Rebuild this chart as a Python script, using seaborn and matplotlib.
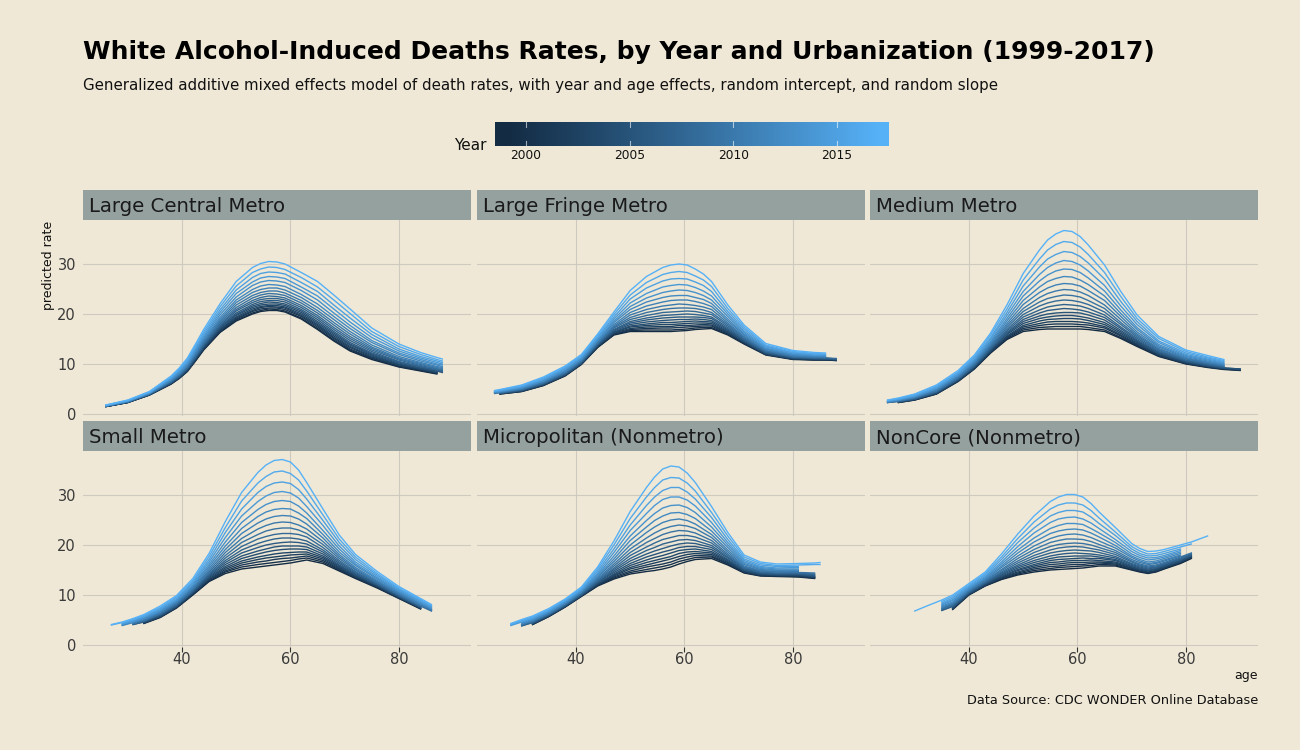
import numpy as np
import pandas as pd
import matplotlib
matplotlib.use("Agg")
import matplotlib.pyplot as plt
import seaborn as sns
from matplotlib.colors import ListedColormap, to_rgb
from matplotlib.patches import Rectangle

N = np.nan

# ---------------------------------------------------------------- data
YEARS = list(range(1999, 2018))
PANELS = ["Large Central Metro", "Large Fringe Metro", "Medium Metro",
          "Small Metro", "Micropolitan (Nonmetro)", "NonCore (Nonmetro)"]

# each row: predicted rate at that age for years 1999..2017 (N = no value)
LC_AGES = [26, 30, 34, 38, 39.5, 41, 42.5, 44, 47, 50, 53, 54.5, 56, 57.5, 59, 62, 65, 68, 71, 75, 80, 84, 87, 88]
LC_RATES = [
    [1.5, 1.5, 1.5, 1.5, 1.5, 1.5, 1.6, 1.6, 1.6, 1.6, 1.6, 1.6, 1.6, 1.7, 1.7, 1.7, 1.7, 1.8, 1.8],
    [2.3, 2.3, 2.3, 2.3, 2.4, 2.4, 2.4, 2.4, 2.4, 2.4, 2.5, 2.5, 2.5, 2.6, 2.6, 2.6, 2.7, 2.7, 2.8],
    [3.8, 3.8, 3.8, 3.9, 3.9, 3.9, 3.9, 3.9, 4.0, 4.0, 4.0, 4.1, 4.1, 4.2, 4.2, 4.3, 4.3, 4.4, 4.5],
    [6.0, 6.0, 6.1, 6.1, 6.2, 6.2, 6.3, 6.3, 6.4, 6.5, 6.6, 6.6, 6.7, 6.9, 7.0, 7.1, 7.3, 7.4, 7.6],
    [7.1, 7.2, 7.2, 7.3, 7.3, 7.4, 7.5, 7.5, 7.6, 7.7, 7.8, 7.9, 8.1, 8.2, 8.4, 8.6, 8.8, 9.0, 9.2],
    [8.5, 8.6, 8.6, 8.7, 8.8, 8.9, 9.0, 9.1, 9.2, 9.3, 9.4, 9.6, 9.8, 9.9, 10.1, 10.4, 10.6, 10.9, 11.2],
    [10.6, 10.7, 10.8, 10.9, 11.0, 11.1, 11.2, 11.3, 11.4, 11.6, 11.8, 12.0, 12.2, 12.4, 12.7, 13.0, 13.3, 13.6, 14.0],
    [12.8, 12.9, 13.0, 13.1, 13.2, 13.4, 13.5, 13.7, 13.8, 14.0, 14.2, 14.4, 14.7, 15.0, 15.3, 15.6, 16.0, 16.4, 16.9],
    [16.3, 16.4, 16.6, 16.7, 16.9, 17.1, 17.3, 17.5, 17.7, 18.0, 18.3, 18.6, 18.9, 19.3, 19.8, 20.3, 20.8, 21.4, 22.0],
    [18.6, 18.8, 19.0, 19.2, 19.4, 19.7, 19.9, 20.2, 20.6, 20.9, 21.3, 21.8, 22.3, 22.8, 23.4, 24.1, 24.8, 25.6, 26.5],
    [20.0, 20.2, 20.5, 20.7, 21.0, 21.3, 21.6, 21.9, 22.3, 22.7, 23.2, 23.7, 24.3, 24.9, 25.7, 26.4, 27.3, 28.3, 29.3],
    [20.5, 20.7, 21.0, 21.3, 21.5, 21.8, 22.1, 22.5, 22.9, 23.3, 23.8, 24.3, 24.9, 25.6, 26.4, 27.2, 28.1, 29.0, 30.1],
    [20.7, 21.0, 21.2, 21.5, 21.7, 22.0, 22.4, 22.7, 23.1, 23.6, 24.1, 24.6, 25.2, 25.9, 26.7, 27.5, 28.4, 29.4, 30.5],
    [20.7, 20.9, 21.2, 21.4, 21.7, 22.0, 22.3, 22.7, 23.1, 23.5, 24.0, 24.6, 25.2, 25.8, 26.6, 27.4, 28.3, 29.3, 30.4],
    [20.4, 20.6, 20.9, 21.2, 21.4, 21.7, 22.0, 22.4, 22.8, 23.2, 23.7, 24.2, 24.8, 25.5, 26.3, 27.1, 28.0, 28.9, 30.0],
    [19.0, 19.2, 19.5, 19.7, 20.0, 20.3, 20.6, 20.9, 21.3, 21.7, 22.2, 22.7, 23.3, 23.9, 24.7, 25.4, 26.3, 27.3, 28.3],
    [16.9, 17.1, 17.4, 17.7, 17.9, 18.2, 18.5, 18.9, 19.3, 19.7, 20.2, 20.7, 21.3, 22.0, 22.8, 23.6, 24.5, 25.4, 26.5],
    [14.6, 14.8, 15.1, 15.3, 15.6, 15.9, 16.2, 16.5, 16.9, 17.3, 17.8, 18.3, 18.9, 19.5, 20.2, 21.0, 21.8, 22.8, 23.8],
    [12.6, 12.8, 13.0, 13.3, 13.5, 13.8, 14.0, 14.3, 14.7, 15.1, 15.5, 16.0, 16.5, 17.1, 17.7, 18.4, 19.2, 20.1, 21.0],
    [10.9, 11.1, 11.2, 11.4, 11.6, 11.8, 12.0, 12.2, 12.5, 12.8, 13.1, 13.4, 13.8, 14.3, 14.7, 15.3, 15.9, 16.5, 17.2],
    [9.4, 9.5, 9.6, 9.8, 9.9, 10.0, 10.2, 10.4, 10.5, 10.8, 11.0, 11.2, 11.5, 11.9, 12.2, 12.6, 13.0, 13.5, 14.0],
    [8.6, 8.7, 8.8, 8.9, 9.0, 9.1, 9.2, 9.4, 9.5, 9.7, 9.9, 10.1, 10.3, 10.6, 10.9, 11.2, 11.5, 11.9, 12.3],
    [8.0, 8.1, 8.2, 8.3, 8.3, 8.5, 8.6, 8.7, 8.8, 9.0, 9.1, 9.3, 9.5, 9.8, 10.0, 10.3, 10.6, 10.9, 11.3],
    [N, N, N, N, N, N, 8.3, 8.5, 8.6, 8.7, 8.9, 9.1, 9.3, 9.5, 9.8, 10.0, 10.3, 10.6, 11.0],
]

LF_AGES = [25, 26, 30, 34, 38, 41, 44, 47, 50, 53, 56, 57.5, 59, 60.5, 62, 63.5, 65, 68, 71, 75, 80, 84, 86, 88]
LF_RATES = [
    [N, N, N, N, N, N, N, N, N, 4.1, 4.2, 4.2, 4.3, 4.3, 4.4, 4.5, 4.5, 4.6, 4.7],
    [4.0, 4.0, 4.1, 4.1, 4.1, 4.1, 4.2, 4.2, 4.2, 4.3, 4.3, 4.4, 4.4, 4.5, 4.5, 4.6, 4.7, 4.8, 4.9],
    [4.5, 4.5, 4.6, 4.6, 4.6, 4.7, 4.7, 4.8, 4.8, 4.9, 5.0, 5.0, 5.1, 5.2, 5.3, 5.4, 5.5, 5.7, 5.8],
    [5.7, 5.7, 5.8, 5.8, 5.9, 5.9, 6.0, 6.1, 6.1, 6.2, 6.3, 6.4, 6.5, 6.6, 6.7, 6.9, 7.0, 7.2, 7.4],
    [7.6, 7.7, 7.7, 7.8, 7.8, 7.9, 7.9, 8.0, 8.1, 8.2, 8.3, 8.4, 8.5, 8.7, 8.8, 9.0, 9.2, 9.4, 9.6],
    [9.9, 10.0, 10.0, 10.1, 10.1, 10.2, 10.2, 10.3, 10.4, 10.5, 10.6, 10.7, 10.8, 11.0, 11.1, 11.3, 11.5, 11.7, 11.9],
    [13.3, 13.4, 13.4, 13.5, 13.6, 13.7, 13.8, 13.9, 14.0, 14.1, 14.2, 14.4, 14.6, 14.7, 14.9, 15.2, 15.4, 15.7, 16.0],
    [15.8, 15.9, 16.0, 16.2, 16.3, 16.4, 16.6, 16.8, 16.9, 17.2, 17.4, 17.6, 17.9, 18.3, 18.6, 19.0, 19.4, 19.9, 20.4],
    [16.5, 16.7, 16.9, 17.1, 17.4, 17.6, 17.9, 18.2, 18.5, 18.9, 19.3, 19.8, 20.3, 20.9, 21.5, 22.2, 23.0, 23.8, 24.7],
    [16.5, 16.8, 17.1, 17.4, 17.7, 18.0, 18.4, 18.8, 19.2, 19.7, 20.3, 20.9, 21.6, 22.4, 23.2, 24.1, 25.2, 26.3, 27.5],
    [16.5, 16.8, 17.2, 17.5, 17.9, 18.3, 18.7, 19.2, 19.7, 20.3, 20.9, 21.6, 22.4, 23.3, 24.3, 25.4, 26.6, 27.9, 29.3],
    [16.5, 16.8, 17.2, 17.5, 17.9, 18.3, 18.8, 19.3, 19.8, 20.4, 21.1, 21.8, 22.7, 23.6, 24.6, 25.7, 27.0, 28.3, 29.8],
    [16.6, 16.9, 17.3, 17.7, 18.0, 18.4, 18.9, 19.4, 19.9, 20.5, 21.2, 22.0, 22.8, 23.7, 24.8, 25.9, 27.1, 28.5, 30.0],
    [16.7, 17.0, 17.4, 17.7, 18.1, 18.5, 18.9, 19.4, 20.0, 20.6, 21.2, 21.9, 22.8, 23.7, 24.7, 25.8, 27.0, 28.3, 29.8],
    [16.9, 17.2, 17.5, 17.8, 18.2, 18.6, 19.0, 19.4, 19.9, 20.5, 21.1, 21.7, 22.5, 23.3, 24.3, 25.3, 26.4, 27.6, 29.0],
    [17.0, 17.3, 17.6, 17.9, 18.2, 18.5, 18.9, 19.3, 19.7, 20.2, 20.8, 21.4, 22.1, 22.9, 23.7, 24.6, 25.7, 26.8, 28.0],
    [17.1, 17.3, 17.6, 17.8, 18.1, 18.4, 18.7, 19.1, 19.4, 19.9, 20.3, 20.9, 21.5, 22.1, 22.8, 23.6, 24.5, 25.5, 26.5],
    [15.8, 16.0, 16.1, 16.3, 16.4, 16.6, 16.8, 17.0, 17.3, 17.6, 17.9, 18.2, 18.6, 19.0, 19.5, 20.0, 20.5, 21.1, 21.8],
    [14.0, 14.1, 14.2, 14.3, 14.4, 14.5, 14.6, 14.8, 14.9, 15.1, 15.3, 15.5, 15.8, 16.0, 16.3, 16.6, 17.0, 17.4, 17.8],
    [11.8, 11.9, 11.9, 12.0, 12.0, 12.1, 12.2, 12.3, 12.4, 12.5, 12.6, 12.7, 12.9, 13.0, 13.2, 13.4, 13.6, 13.8, 14.1],
    [10.9, 11.0, 11.0, 11.0, 11.1, 11.2, 11.2, 11.3, 11.4, 11.4, 11.5, 11.6, 11.7, 11.9, 12.0, 12.2, 12.3, 12.5, 12.7],
    [10.8, 10.8, 10.9, 10.9, 11.0, 11.0, 11.1, 11.1, 11.2, 11.2, 11.3, 11.4, 11.5, 11.6, 11.7, 11.8, 12.0, 12.1, 12.3],
    [10.8, 10.8, 10.9, 10.9, 11.0, 11.0, 11.0, 11.1, 11.2, 11.2, 11.3, 11.4, 11.5, 11.5, 11.7, 11.8, 11.9, 12.0, 12.2],
    [10.7, 10.7, 10.8, 10.8, 10.9, 10.9, 10.9, 11.0, 11.0, 11.1, N, N, N, N, N, N, N, N, N],
]

MM_AGES = [25, 27, 30, 34, 38, 41, 44, 47, 50, 53, 54.5, 56, 57.5, 59, 60.5, 62, 65, 68, 71, 75, 80, 84, 87, 90]
MM_RATES = [
    [N, N, N, N, N, N, N, N, 2.3, 2.3, 2.3, 2.4, 2.4, 2.5, 2.5, 2.6, 2.7, 2.7, 2.8],
    [2.3, 2.3, 2.4, 2.4, 2.4, 2.4, 2.5, 2.5, 2.5, 2.6, 2.6, 2.7, 2.7, 2.8, 2.9, 2.9, 3.0, 3.1, 3.2],
    [2.8, 2.8, 2.9, 2.9, 2.9, 3.0, 3.0, 3.0, 3.1, 3.2, 3.2, 3.3, 3.4, 3.4, 3.5, 3.6, 3.7, 3.9, 4.0],
    [4.0, 4.0, 4.1, 4.1, 4.2, 4.2, 4.3, 4.4, 4.4, 4.5, 4.6, 4.7, 4.8, 5.0, 5.1, 5.2, 5.4, 5.6, 5.8],
    [6.5, 6.6, 6.6, 6.7, 6.7, 6.8, 6.9, 7.0, 7.0, 7.1, 7.3, 7.4, 7.5, 7.7, 7.8, 8.0, 8.2, 8.4, 8.7],
    [9.0, 9.1, 9.1, 9.2, 9.3, 9.4, 9.5, 9.6, 9.7, 9.8, 10.0, 10.1, 10.3, 10.5, 10.7, 10.9, 11.2, 11.5, 11.8],
    [12.2, 12.3, 12.4, 12.5, 12.6, 12.8, 12.9, 13.0, 13.2, 13.4, 13.6, 13.8, 14.1, 14.3, 14.6, 15.0, 15.3, 15.8, 16.2],
    [14.9, 15.1, 15.3, 15.4, 15.6, 15.9, 16.1, 16.3, 16.6, 16.9, 17.3, 17.7, 18.1, 18.6, 19.1, 19.7, 20.3, 21.0, 21.8],
    [16.5, 16.8, 17.1, 17.4, 17.7, 18.1, 18.5, 18.9, 19.4, 19.9, 20.5, 21.1, 21.9, 22.7, 23.6, 24.5, 25.6, 26.8, 28.1],
    [16.9, 17.3, 17.7, 18.1, 18.6, 19.1, 19.6, 20.2, 20.8, 21.6, 22.4, 23.3, 24.3, 25.4, 26.6, 27.9, 29.4, 31.0, 32.8],
    [17.0, 17.4, 17.9, 18.4, 18.9, 19.4, 20.0, 20.7, 21.4, 22.2, 23.1, 24.1, 25.2, 26.5, 27.8, 29.3, 31.0, 32.8, 34.8],
    [17.0, 17.5, 18.0, 18.5, 19.0, 19.6, 20.2, 20.9, 21.7, 22.6, 23.5, 24.6, 25.8, 27.1, 28.6, 30.2, 31.9, 33.9, 36.0],
    [17.0, 17.5, 18.0, 18.5, 19.1, 19.7, 20.3, 21.1, 21.9, 22.8, 23.8, 24.9, 26.1, 27.5, 29.0, 30.7, 32.5, 34.5, 36.7],
    [17.0, 17.5, 18.0, 18.5, 19.1, 19.7, 20.3, 21.0, 21.8, 22.7, 23.7, 24.8, 26.0, 27.4, 28.9, 30.5, 32.3, 34.3, 36.5],
    [17.0, 17.5, 17.9, 18.4, 19.0, 19.5, 20.2, 20.8, 21.6, 22.4, 23.4, 24.4, 25.6, 26.8, 28.3, 29.8, 31.5, 33.4, 35.5],
    [16.9, 17.3, 17.8, 18.2, 18.7, 19.2, 19.8, 20.4, 21.1, 21.9, 22.7, 23.7, 24.7, 25.9, 27.2, 28.6, 30.2, 31.9, 33.8],
    [16.5, 16.8, 17.2, 17.5, 17.9, 18.3, 18.8, 19.3, 19.8, 20.4, 21.1, 21.8, 22.7, 23.6, 24.6, 25.7, 27.0, 28.3, 29.8],
    [15.1, 15.3, 15.6, 15.8, 16.1, 16.4, 16.7, 17.1, 17.4, 17.9, 18.3, 18.9, 19.5, 20.1, 20.8, 21.6, 22.5, 23.5, 24.5],
    [13.5, 13.7, 13.8, 14.0, 14.2, 14.4, 14.6, 14.8, 15.1, 15.4, 15.7, 16.0, 16.4, 16.9, 17.3, 17.9, 18.5, 19.1, 19.8],
    [11.5, 11.6, 11.7, 11.8, 11.9, 12.1, 12.2, 12.3, 12.5, 12.7, 12.9, 13.1, 13.4, 13.6, 13.9, 14.3, 14.6, 15.1, 15.5],
    [10.0, 10.1, 10.1, 10.2, 10.3, 10.4, 10.5, 10.6, 10.7, 10.8, 11.0, 11.1, 11.3, 11.5, 11.7, 11.9, 12.2, 12.5, 12.8],
    [9.3, 9.4, 9.4, 9.5, 9.6, 9.6, 9.7, 9.8, 9.9, 10.0, 10.1, 10.3, 10.4, 10.6, 10.8, 11.0, 11.2, 11.4, 11.7],
    [8.9, 9.0, 9.0, 9.1, 9.1, 9.2, 9.2, 9.3, 9.4, 9.5, 9.6, 9.7, 9.8, 10.0, 10.1, 10.3, 10.5, 10.7, 10.9],
    [8.7, 8.8, 8.8, 8.9, 8.9, 9.0, 9.0, N, N, N, N, N, N, N, N, N, N, N, N],
]

SM_AGES = [27, 29, 31, 33, 36, 39, 42, 45, 48, 51, 54, 55.5, 57, 58.5, 60, 61.5, 63, 66, 69, 72, 76, 80, 84, 86]
SM_RATES = [
    [N, N, N, N, N, N, N, N, N, N, N, N, N, N, N, N, N, 4.0, 4.1],
    [N, N, N, N, N, N, N, N, N, N, N, N, 3.9, 4.0, 4.1, 4.2, 4.3, 4.5, 4.6],
    [N, N, N, N, N, N, 4.1, 4.1, 4.2, 4.2, 4.3, 4.4, 4.5, 4.6, 4.7, 4.8, 5.0, 5.1, 5.3],
    [4.3, 4.4, 4.4, 4.4, 4.5, 4.6, 4.6, 4.7, 4.8, 4.8, 4.9, 5.0, 5.1, 5.3, 5.4, 5.6, 5.7, 5.9, 6.1],
    [5.5, 5.6, 5.6, 5.7, 5.7, 5.8, 5.9, 6.0, 6.1, 6.2, 6.3, 6.4, 6.6, 6.7, 6.9, 7.1, 7.3, 7.5, 7.8],
    [7.4, 7.5, 7.5, 7.6, 7.7, 7.7, 7.8, 7.9, 8.0, 8.1, 8.3, 8.4, 8.6, 8.7, 8.9, 9.1, 9.4, 9.6, 9.9],
    [10.0, 10.1, 10.2, 10.3, 10.4, 10.5, 10.6, 10.7, 10.8, 11.0, 11.1, 11.3, 11.5, 11.8, 12.0, 12.3, 12.6, 12.9, 13.3],
    [12.7, 12.8, 13.0, 13.1, 13.3, 13.5, 13.7, 13.9, 14.1, 14.3, 14.6, 14.9, 15.3, 15.7, 16.1, 16.6, 17.1, 17.7, 18.3],
    [14.3, 14.6, 14.8, 15.1, 15.4, 15.7, 16.1, 16.5, 16.9, 17.4, 17.9, 18.5, 19.1, 19.8, 20.6, 21.5, 22.5, 23.5, 24.7],
    [15.2, 15.6, 16.0, 16.4, 16.8, 17.3, 17.8, 18.4, 19.0, 19.7, 20.5, 21.3, 22.3, 23.3, 24.5, 25.8, 27.2, 28.8, 30.5],
    [15.6, 16.1, 16.6, 17.1, 17.6, 18.2, 18.8, 19.5, 20.3, 21.2, 22.1, 23.2, 24.4, 25.7, 27.1, 28.7, 30.5, 32.4, 34.5],
    [15.8, 16.3, 16.8, 17.4, 17.9, 18.6, 19.2, 20.0, 20.8, 21.7, 22.8, 23.9, 25.2, 26.6, 28.1, 29.8, 31.7, 33.7, 36.0],
    [16.0, 16.5, 17.1, 17.6, 18.2, 18.9, 19.6, 20.3, 21.2, 22.1, 23.2, 24.4, 25.7, 27.1, 28.7, 30.5, 32.4, 34.6, 36.9],
    [16.2, 16.7, 17.3, 17.8, 18.4, 19.1, 19.8, 20.5, 21.4, 22.3, 23.4, 24.6, 25.9, 27.3, 28.9, 30.7, 32.6, 34.8, 37.1],
    [16.4, 16.9, 17.4, 18.0, 18.5, 19.2, 19.8, 20.6, 21.4, 22.3, 23.4, 24.5, 25.8, 27.2, 28.7, 30.4, 32.3, 34.3, 36.6],
    [16.7, 17.2, 17.6, 18.1, 18.6, 19.2, 19.8, 20.5, 21.2, 22.1, 23.0, 24.0, 25.2, 26.4, 27.8, 29.4, 31.1, 33.0, 35.0],
    [17.0, 17.4, 17.8, 18.2, 18.6, 19.1, 19.6, 20.2, 20.8, 21.6, 22.3, 23.2, 24.2, 25.3, 26.4, 27.7, 29.2, 30.8, 32.5],
    [16.3, 16.6, 16.9, 17.2, 17.5, 17.8, 18.2, 18.6, 19.0, 19.5, 20.1, 20.7, 21.4, 22.1, 22.9, 23.9, 24.9, 26.0, 27.2],
    [14.8, 15.0, 15.2, 15.4, 15.6, 15.8, 16.0, 16.3, 16.6, 16.9, 17.3, 17.7, 18.1, 18.6, 19.2, 19.8, 20.5, 21.2, 22.0],
    [13.3, 13.4, 13.5, 13.7, 13.8, 14.0, 14.1, 14.3, 14.5, 14.7, 15.0, 15.2, 15.5, 15.9, 16.2, 16.6, 17.1, 17.6, 18.1],
    [11.4, 11.5, 11.6, 11.7, 11.8, 11.9, 12.0, 12.1, 12.2, 12.4, 12.5, 12.7, 12.9, 13.2, 13.4, 13.7, 14.0, 14.3, 14.7],
    [9.3, 9.4, 9.4, 9.5, 9.6, 9.6, 9.7, 9.8, 9.9, 10.0, 10.1, 10.3, 10.4, 10.6, 10.8, 11.0, 11.2, 11.4, 11.7],
    [7.2, 7.3, 7.3, 7.4, 7.4, 7.5, 7.6, 7.6, 7.7, 7.8, 7.9, 8.0, 8.2, 8.3, 8.5, 8.7, 8.9, 9.1, 9.3],
    [N, N, N, N, N, N, N, N, N, 6.8, 6.9, 7.0, 7.1, 7.3, 7.4, 7.6, 7.7, 7.9, 8.1],
]

MI_AGES = [28, 30, 32, 35, 38, 41, 44, 47, 50, 53, 54.5, 56, 57.5, 59, 60.5, 62, 65, 68, 71, 74, 77, 81, 84, 85]
MI_RATES = [
    [N, N, N, N, N, N, N, N, N, N, N, N, N, N, N, 3.9, 4.0, 4.2, 4.3],
    [N, N, N, N, N, N, N, 3.8, 3.9, 4.0, 4.1, 4.1, 4.2, 4.4, 4.5, 4.6, 4.8, 4.9, 5.1],
    [4.1, 4.1, 4.2, 4.2, 4.3, 4.3, 4.4, 4.5, 4.5, 4.6, 4.7, 4.8, 4.9, 5.0, 5.1, 5.3, 5.4, 5.6, 5.8],
    [5.7, 5.7, 5.8, 5.8, 5.9, 5.9, 6.0, 6.0, 6.1, 6.2, 6.3, 6.3, 6.4, 6.6, 6.7, 6.8, 7.0, 7.1, 7.3],
    [7.6, 7.6, 7.7, 7.7, 7.8, 7.8, 7.9, 7.9, 8.0, 8.1, 8.2, 8.2, 8.3, 8.5, 8.6, 8.7, 8.9, 9.0, 9.2],
    [9.7, 9.8, 9.8, 9.9, 9.9, 10.0, 10.0, 10.1, 10.2, 10.3, 10.4, 10.5, 10.6, 10.7, 10.9, 11.0, 11.2, 11.4, 11.6],
    [11.8, 11.9, 12.0, 12.1, 12.2, 12.3, 12.5, 12.6, 12.7, 12.9, 13.1, 13.3, 13.6, 13.8, 14.1, 14.4, 14.8, 15.2, 15.6],
    [13.2, 13.4, 13.6, 13.8, 14.0, 14.2, 14.5, 14.8, 15.1, 15.4, 15.8, 16.2, 16.7, 17.2, 17.8, 18.5, 19.2, 20.0, 20.8],
    [14.2, 14.5, 14.8, 15.2, 15.5, 15.9, 16.3, 16.8, 17.3, 17.9, 18.5, 19.2, 20.0, 20.9, 21.8, 22.9, 24.0, 25.3, 26.7],
    [14.7, 15.1, 15.6, 16.0, 16.5, 17.0, 17.6, 18.2, 18.9, 19.6, 20.5, 21.4, 22.5, 23.6, 24.9, 26.3, 27.9, 29.6, 31.5],
    [14.9, 15.4, 15.9, 16.4, 16.9, 17.5, 18.1, 18.8, 19.5, 20.4, 21.3, 22.4, 23.6, 24.9, 26.3, 27.9, 29.6, 31.5, 33.6],
    [15.2, 15.7, 16.2, 16.8, 17.3, 17.9, 18.6, 19.3, 20.2, 21.1, 22.1, 23.2, 24.5, 25.8, 27.4, 29.1, 30.9, 33.0, 35.2],
    [15.6, 16.1, 16.6, 17.2, 17.7, 18.4, 19.0, 19.8, 20.6, 21.5, 22.6, 23.7, 25.0, 26.4, 27.9, 29.6, 31.5, 33.5, 35.8],
    [16.2, 16.7, 17.2, 17.7, 18.3, 18.9, 19.5, 20.2, 21.0, 21.9, 22.9, 24.0, 25.2, 26.5, 28.0, 29.6, 31.5, 33.4, 35.6],
    [16.7, 17.1, 17.6, 18.1, 18.6, 19.1, 19.7, 20.4, 21.1, 21.9, 22.8, 23.8, 24.9, 26.1, 27.5, 29.0, 30.6, 32.4, 34.4],
    [17.1, 17.5, 17.9, 18.3, 18.7, 19.2, 19.7, 20.3, 20.9, 21.6, 22.4, 23.3, 24.2, 25.3, 26.5, 27.8, 29.2, 30.8, 32.5],
    [17.3, 17.6, 17.8, 18.1, 18.4, 18.7, 19.1, 19.5, 19.9, 20.4, 20.9, 21.5, 22.1, 22.8, 23.6, 24.5, 25.5, 26.5, 27.7],
    [16.0, 16.2, 16.3, 16.5, 16.7, 16.9, 17.1, 17.4, 17.6, 17.9, 18.2, 18.6, 19.0, 19.5, 20.0, 20.5, 21.1, 21.8, 22.5],
    [14.4, 14.5, 14.6, 14.7, 14.8, 14.9, 15.0, 15.2, 15.3, 15.5, 15.6, 15.8, 16.1, 16.3, 16.6, 16.9, 17.2, 17.6, 18.0],
    [13.8, 13.9, 13.9, 14.0, 14.1, 14.2, 14.3, 14.4, 14.5, 14.6, 14.8, 14.9, 15.1, 15.3, 15.5, 15.7, 16.0, 16.3, 16.6],
    [13.7, 13.8, 13.8, 13.9, 14.0, 14.0, 14.1, 14.2, 14.3, 14.4, 14.6, 14.7, 14.9, 15.0, 15.2, 15.4, 15.7, 15.9, 16.2],
    [13.6, 13.7, 13.7, 13.8, 13.9, 14.0, 14.1, 14.2, 14.3, 14.4, 14.5, 14.7, 14.9, 15.0, 15.2, 15.5, 15.7, 16.0, 16.3],
    [13.3, 13.4, 13.5, 13.5, 13.6, 13.7, 13.8, 13.9, 14.1, 14.2, 14.4, N, N, N, N, N, N, 16.1, 16.4],
    [N, N, N, N, N, N, N, N, N, N, N, N, N, N, N, N, N, 16.1, 16.5],
]

NC_AGES = [30, 32, 35, 37, 40, 43, 46, 49, 52, 55, 56.5, 58, 59.5, 61, 62.5, 64, 67, 70,
           71.5, 73, 74.5, 76, 79, 81, 84]
NC_RATES = [
    [N, N, N, N, N, N, N, N, N, N, N, N, N, N, N, N, N, N, 6.8],
    [N, N, N, N, N, N, N, N, N, N, N, N, N, N, N, N, N, N, 7.7],
    [N, N, N, N, N, N, N, 6.9, 7.0, 7.2, 7.3, 7.4, 7.6, 7.8, 8.0, 8.2, 8.4, 8.7, 9.0],
    [7.1, 7.2, 7.3, 7.3, 7.4, 7.5, 7.6, 7.7, 7.8, 8.0, 8.1, 8.3, 8.4, 8.6, 8.9, 9.1, 9.4, 9.7, 10.0],
    [10.0, 10.1, 10.1, 10.2, 10.2, 10.3, 10.4, 10.5, 10.6, 10.7, 10.8, 10.9, 11.1, 11.2, 11.4, 11.6, 11.8, 12.0, 12.3],
    [11.8, 11.9, 11.9, 12.0, 12.1, 12.2, 12.3, 12.4, 12.5, 12.6, 12.8, 12.9, 13.1, 13.3, 13.5, 13.7, 14.0, 14.3, 14.6],
    [13.1, 13.2, 13.4, 13.5, 13.6, 13.8, 14.0, 14.2, 14.4, 14.6, 14.9, 15.1, 15.5, 15.8, 16.2, 16.6, 17.1, 17.6, 18.2],
    [14.0, 14.2, 14.4, 14.6, 14.9, 15.1, 15.4, 15.7, 16.0, 16.4, 16.8, 17.3, 17.8, 18.4, 19.0, 19.7, 20.5, 21.3, 22.2],
    [14.6, 14.9, 15.2, 15.5, 15.8, 16.1, 16.5, 16.9, 17.4, 17.9, 18.5, 19.1, 19.8, 20.6, 21.4, 22.4, 23.4, 24.6, 25.8],
    [15.0, 15.3, 15.7, 16.1, 16.5, 16.9, 17.3, 17.8, 18.4, 19.0, 19.7, 20.5, 21.3, 22.3, 23.3, 24.5, 25.8, 27.2, 28.7],
    [15.1, 15.5, 15.8, 16.2, 16.6, 17.1, 17.6, 18.1, 18.7, 19.4, 20.1, 20.9, 21.8, 22.8, 23.9, 25.2, 26.5, 28.0, 29.6],
    [15.2, 15.6, 16.0, 16.4, 16.8, 17.2, 17.7, 18.3, 18.9, 19.6, 20.3, 21.2, 22.1, 23.1, 24.3, 25.5, 26.9, 28.4, 30.1],
    [15.3, 15.7, 16.1, 16.5, 16.9, 17.3, 17.8, 18.4, 19.0, 19.7, 20.4, 21.2, 22.2, 23.2, 24.3, 25.6, 26.9, 28.4, 30.1],
    [15.4, 15.8, 16.1, 16.5, 16.9, 17.4, 17.8, 18.3, 18.9, 19.6, 20.3, 21.1, 22.0, 23.0, 24.1, 25.2, 26.6, 28.0, 29.6],
    [15.6, 15.9, 16.3, 16.6, 17.0, 17.3, 17.8, 18.2, 18.8, 19.3, 20.0, 20.7, 21.5, 22.4, 23.3, 24.4, 25.6, 26.9, 28.3],
    [15.8, 16.1, 16.4, 16.6, 16.9, 17.3, 17.6, 18.0, 18.5, 19.0, 19.5, 20.1, 20.8, 21.6, 22.4, 23.3, 24.3, 25.4, 26.6],
    [15.8, 16.0, 16.2, 16.4, 16.6, 16.9, 17.1, 17.4, 17.7, 18.1, 18.5, 18.9, 19.4, 19.9, 20.5, 21.1, 21.9, 22.6, 23.5],
    [15.0, 15.1, 15.3, 15.4, 15.6, 15.7, 15.9, 16.1, 16.3, 16.6, 16.8, 17.1, 17.5, 17.8, 18.2, 18.7, 19.2, 19.7, 20.3],
    [14.6, 14.7, 14.8, 15.0, 15.1, 15.2, 15.4, 15.6, 15.8, 16.0, 16.2, 16.5, 16.8, 17.1, 17.5, 17.9, 18.3, 18.8, 19.3],
    [14.3, 14.4, 14.5, 14.6, 14.8, 14.9, 15.0, 15.2, 15.4, 15.6, 15.8, 16.1, 16.3, 16.6, 17.0, 17.4, 17.8, 18.2, 18.7],
    [14.6, 14.7, 14.8, 14.9, 15.1, 15.2, 15.3, 15.5, 15.6, 15.8, 16.0, 16.3, 16.5, 16.8, 17.2, 17.5, 17.9, 18.3, 18.8],
    [15.2, 15.3, 15.4, 15.5, 15.6, 15.7, 15.9, 16.0, 16.2, 16.3, 16.5, 16.8, 17.0, 17.3, 17.6, 17.9, 18.3, 18.7, 19.1],
    [16.3, 16.4, 16.5, 16.6, 16.7, 16.8, 16.9, 17.1, 17.2, 17.4, 17.6, 17.8, 18.0, 18.3, 18.6, 18.9, 19.2, 19.6, 20.0],
    [17.3, 17.4, 17.5, 17.6, 17.7, 17.8, 17.9, 18.0, 18.1, 18.3, 18.4, N, N, N, N, N, N, 20.2, 20.6],
    [N, N, N, N, N, N, N, N, N, N, N, N, N, N, N, N, N, N, 21.8],
]

X_TICKS = [40, 60, 80]
Y_TICKS = [0, 10, 20, 30]
CBAR_TICKS = [2000, 2005, 2010, 2015]

TITLE = "White Alcohol-Induced Deaths Rates, by Year and Urbanization (1999-2017)"
SUBTITLE = ("Generalized additive mixed effects model of death rates, with year and age "
            "effects, random intercept, and random slope")
CAPTION = "Data Source: CDC WONDER Online Database"

# ---------------------------------------------------------------- long table
PANEL_DATA = [(LC_AGES, LC_RATES), (LF_AGES, LF_RATES), (MM_AGES, MM_RATES),
              (SM_AGES, SM_RATES), (MI_AGES, MI_RATES), (NC_AGES, NC_RATES)]
records = []
for pname, (ages, rates) in zip(PANELS, PANEL_DATA):
    for age, row in zip(ages, rates):
        for yr, v in zip(YEARS, row):
            if not np.isnan(v):
                records.append((pname, age, yr, v))
df = pd.DataFrame(records, columns=["panel", "age", "year", "rate"])

# ---------------------------------------------------------------- colours (ggplot2 default gradient, Lab interpolation)
def _to_lab(c):
    rgb = np.array(to_rgb(c))
    lin = np.where(rgb <= 0.04045, rgb / 12.92, ((rgb + 0.055) / 1.055) ** 2.4)
    M = np.array([[0.4124564, 0.3575761, 0.1804375],
                  [0.2126729, 0.7151522, 0.0721750],
                  [0.0193339, 0.1191920, 0.9503041]])
    xyz = M @ lin / np.array([0.95047, 1.0, 1.08883])
    d = 6 / 29
    f = np.where(xyz > d ** 3, np.cbrt(xyz), xyz / (3 * d * d) + 4 / 29)
    return np.array([116 * f[1] - 16, 500 * (f[0] - f[1]), 200 * (f[1] - f[2])])


def _from_lab(lab):
    L, a, b = lab
    fy_ = (L + 16) / 116
    f = np.array([fy_ + a / 500, fy_, fy_ - b / 200])
    d = 6 / 29
    xyz = np.where(f > d, f ** 3, 3 * d * d * (f - 4 / 29)) * np.array([0.95047, 1.0, 1.08883])
    Minv = np.array([[3.2404542, -1.5371385, -0.4985314],
                     [-0.9692660, 1.8760108, 0.0415560],
                     [0.0556434, -0.2040259, 1.0572252]])
    lin = np.clip(Minv @ xyz, 0, 1)
    rgb = np.where(lin <= 0.0031308, 12.92 * lin, 1.055 * lin ** (1 / 2.4) - 0.055)
    return np.clip(rgb, 0, 1)


lab_lo, lab_hi = _to_lab("#132B43"), _to_lab("#56B1F7")
cmap = ListedColormap([_from_lab(lab_lo + t * (lab_hi - lab_lo)) for t in np.linspace(0, 1, 256)])

# ---------------------------------------------------------------- figure
BG = "#EFE8D6"
STRIP = "#95A19F"
GRID = "#CFCABF"
W, H = 1300, 750

fig = plt.figure(figsize=(13, 7.5), dpi=100, facecolor=BG)


def fx(px):
    return px / W


def fy(py):
    return 1 - py / H


COL_LEFT = [83, 477, 870]
PANEL_W = 388
ROW_TOP = [219.5, 450.5]          # plot area top (px from top)
PANEL_H = 196.0
STRIP_H = 29.5
XLIM = (21.75, 93.3)
YLIM = (-0.3, 38.9)

for k, pname in enumerate(PANELS):
    r, c = divmod(k, 3)
    left, top = COL_LEFT[c], ROW_TOP[r]
    ax = fig.add_axes([fx(left), fy(top + PANEL_H), fx(PANEL_W), PANEL_H / H])
    ax.set_facecolor(BG)
    sub = df[df["panel"] == pname]
    sns.lineplot(data=sub, x="age", y="rate", hue="year", units="year",
                 estimator=None, palette=cmap, hue_norm=(1999, 2017),
                 legend=False, linewidth=1.0, ax=ax, sort=True)
    for ln in ax.get_lines():
        ln.set_solid_joinstyle("round")
    ax.set_xlim(*XLIM)
    ax.set_ylim(*YLIM)
    ax.set_xticks(X_TICKS)
    ax.set_yticks(Y_TICKS)
    ax.grid(True, color=GRID, linewidth=0.8)
    ax.set_axisbelow(True)
    for s in ax.spines.values():
        s.set_visible(False)
    ax.set_xlabel("")
    ax.set_ylabel("")
    ax.tick_params(axis="y", length=0, pad=5, labelsize=10.5, labelcolor="#3a3a3a",
                   labelleft=(c == 0))
    if r == 1:
        ax.tick_params(axis="x", length=3.3, width=0.8, color="#333333", pad=0.8,
                       labelsize=10.5, labelcolor="#3a3a3a")
    else:
        ax.tick_params(axis="x", length=0, labelbottom=False)

    # facet strip
    sax = fig.add_axes([fx(left), fy(top), fx(PANEL_W), STRIP_H / H])
    sax.set_facecolor(STRIP)
    sax.set_xticks([])
    sax.set_yticks([])
    for s in sax.spines.values():
        s.set_visible(False)
    sax.text(6 / PANEL_W, 7.5 / STRIP_H, pname, transform=sax.transAxes,
             ha="left", va="baseline", fontsize=14.25, color="#1a1a1a")

# titles and labels
fig.text(fx(83), fy(59), TITLE, fontsize=18, fontweight="bold", color="black",
         ha="left", va="baseline")
fig.text(fx(83), fy(90), SUBTITLE, fontsize=10.85, color="#111111", ha="left", va="baseline")
fig.text(fx(48), fy(221), "predicted rate", rotation=90, fontsize=9, color="#111111",
         ha="center", va="top")
fig.text(fx(1258), fy(679), "age", fontsize=9, color="#111111", ha="right", va="baseline")
fig.text(fx(1258), fy(704.5), CAPTION, fontsize=9.25, color="#111111", ha="right", va="baseline")

# colour bar legend
cax = fig.add_axes([fx(495), fy(146), fx(394), 24 / H])
grad = np.linspace(1999, 2017, 400)
cax.imshow(grad[np.newaxis, :], aspect="auto", cmap=cmap, vmin=1999, vmax=2017,
           extent=(1999, 2017, 0, 1))
cax.set_xlim(1998.5, 2017.5)
cax.set_ylim(0, 1)
cax.add_patch(Rectangle((1998.5, 0), 0.5, 1, color=cmap(0.0), lw=0))
cax.add_patch(Rectangle((2017, 0), 0.5, 1, color=cmap(1.0), lw=0))
for t in CBAR_TICKS:
    cax.plot([t, t], [0, 0.2], color="white", alpha=0.6, lw=0.8)
    cax.plot([t, t], [0.8, 1], color="white", alpha=0.6, lw=0.8)
cax.set_xticks(CBAR_TICKS)
cax.set_xticklabels([str(t) for t in CBAR_TICKS])
cax.set_yticks([])
cax.tick_params(axis="x", length=0, pad=2.5, labelsize=8.8, labelcolor="#111111")
for s in cax.spines.values():
    s.set_visible(False)
fig.text(fx(487), fy(150), "Year", fontsize=11, color="#111111", ha="right", va="baseline")

fig.savefig("out.png", dpi=100, facecolor=BG)
